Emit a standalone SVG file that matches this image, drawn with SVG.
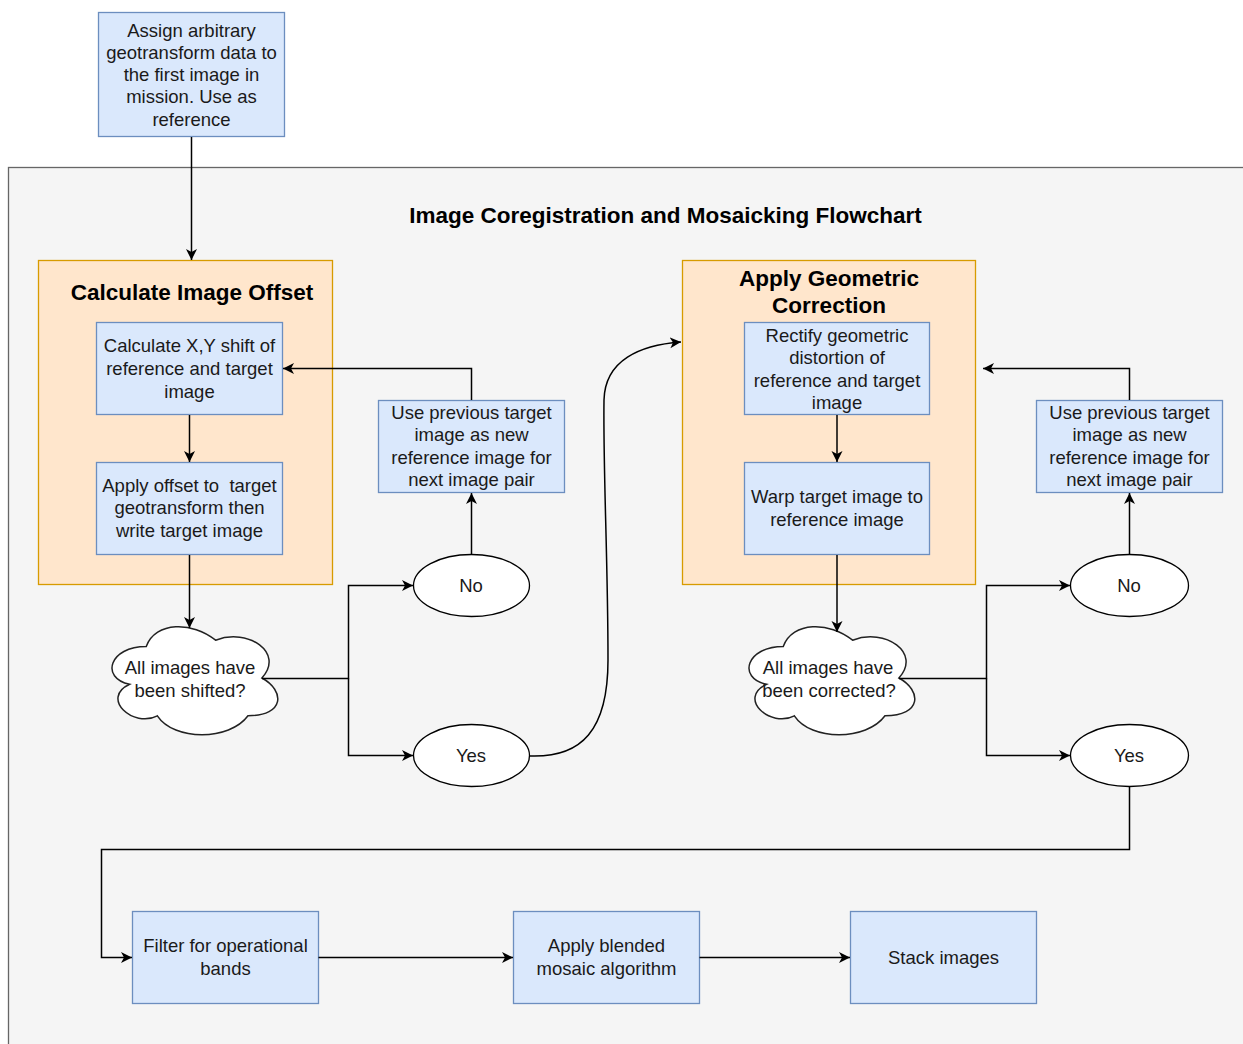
<svg xmlns="http://www.w3.org/2000/svg" width="1243" height="1044" viewBox="0 0 1243 1044">
<style>
text{font-family:"Liberation Sans",Arial,sans-serif;font-size:18.5px;fill:#1a1a1a;text-anchor:middle}
.b{font-weight:bold;font-size:22.5px;fill:#000}
.box{fill:#dae8fc;stroke:#6c8ebf;stroke-width:1.3}
.grp{fill:#ffe6cc;stroke:#d79b00;stroke-width:1.3}
.ell{fill:#fff;stroke:#000;stroke-width:1.3}
.cl{fill:#fff;stroke:#222;stroke-width:1.5}
.e{fill:none;stroke:#000;stroke-width:1.5}
</style>
<defs>
<marker id="a" markerWidth="12" markerHeight="12" refX="11" refY="6" orient="auto" markerUnits="userSpaceOnUse">
<path d="M0,0.5 L11,6 L0,11.5 L3,6 Z" fill="#000"/>
</marker>
<path id="cloud" d="M46.25 31.5 C9.25 31.5 0 63 29.6 69.3 C0 83.16 33.3 113.4 57.35 100.8 C74 126 129.5 126 148 100.8 C185 100.8 185 75.6 161.9 63 C185 37.8 148 12.6 115.6 25.2 C92.5 6.3 55.5 6.3 46.25 31.5 Z"/>
</defs>
<rect x="8.5" y="167.5" width="1260" height="900" fill="#f5f5f5" stroke="#666" stroke-width="1.3"/>
<text class="b" x="665.5" y="223">Image Coregistration and Mosaicking Flowchart</text>

<g id="start">
<rect class="box" x="98.5" y="12.5" width="186" height="124"/>
<text x="191.5" y="36.5">Assign arbitrary</text>
<text x="191.5" y="58.8">geotransform data to</text>
<text x="191.5" y="81.1">the first image in</text>
<text x="191.5" y="103.4">mission. Use as</text>
<text x="191.5" y="125.7">reference</text>
</g>

<g id="group-offset">
<rect class="grp" x="38.5" y="260.5" width="294" height="324"/>
<text class="b" x="192" y="300">Calculate Image Offset</text>
</g>
<g id="calc-shift">
<rect class="box" x="96.5" y="322.5" width="186" height="92"/>
<text x="189.5" y="351.5">Calculate X,Y shift of</text>
<text x="189.5" y="374.5">reference and target</text>
<text x="189.5" y="397.5">image</text>
</g>
<g id="apply-offset">
<rect class="box" x="96.5" y="462.5" width="186" height="92"/>
<text x="189.5" y="491.5" style="white-space:pre">Apply offset to  target</text>
<text x="189.5" y="514">geotransform then</text>
<text x="189.5" y="536.5">write target image</text>
</g>
<g id="cloud-shifted">
<use href="#cloud" class="cl" transform="translate(100,615)"/>
<text x="190" y="673.5">All images have</text>
<text x="190" y="696.5">been shifted?</text>
</g>
<g id="no1">
<ellipse class="ell" cx="471.5" cy="585.5" rx="58" ry="31"/>
<text x="471" y="591.5">No</text>
</g>
<g id="yes1">
<ellipse class="ell" cx="471.5" cy="755.5" rx="58" ry="31"/>
<text x="471" y="761.5">Yes</text>
</g>
<g id="prev1">
<rect class="box" x="378.5" y="400.5" width="186" height="92"/>
<text x="471.5" y="418.5">Use previous target</text>
<text x="471.5" y="440.5">image as new</text>
<text x="471.5" y="463.5">reference image for</text>
<text x="471.5" y="485.5">next image pair</text>
</g>

<g id="group-geo">
<rect class="grp" x="682.5" y="260.5" width="293" height="324"/>
<text class="b" x="829" y="286">Apply Geometric</text>
<text class="b" x="829" y="313">Correction</text>
</g>
<g id="rectify">
<rect class="box" x="744.5" y="322.5" width="185" height="92"/>
<text x="837" y="341.5">Rectify geometric</text>
<text x="837" y="363.5">distortion of</text>
<text x="837" y="386.5">reference and target</text>
<text x="837" y="408.5">image</text>
</g>
<g id="warp">
<rect class="box" x="744.5" y="462.5" width="185" height="92"/>
<text x="837" y="502.5">Warp target image to</text>
<text x="837" y="525.5">reference image</text>
</g>
<g id="cloud-corrected">
<use href="#cloud" class="cl" transform="translate(737,615)"/>
<text x="828" y="673.5">All images have</text>
<text x="829" y="696.5">been corrected?</text>
</g>
<g id="no2">
<ellipse class="ell" cx="1129.5" cy="585.5" rx="59" ry="31"/>
<text x="1129" y="591.5">No</text>
</g>
<g id="yes2">
<ellipse class="ell" cx="1129.5" cy="755.5" rx="59" ry="31"/>
<text x="1129" y="761.5">Yes</text>
</g>
<g id="prev2">
<rect class="box" x="1036.5" y="400.5" width="186" height="92"/>
<text x="1129.5" y="418.5">Use previous target</text>
<text x="1129.5" y="440.5">image as new</text>
<text x="1129.5" y="463.5">reference image for</text>
<text x="1129.5" y="485.5">next image pair</text>
</g>

<g id="filter">
<rect class="box" x="132.5" y="911.5" width="186" height="92"/>
<text x="225.5" y="951.5">Filter for operational</text>
<text x="225.5" y="974.5">bands</text>
</g>
<g id="blend">
<rect class="box" x="513.5" y="911.5" width="186" height="92"/>
<text x="606.5" y="951.5">Apply blended</text>
<text x="606.5" y="974.5">mosaic algorithm</text>
</g>
<g id="stack">
<rect class="box" x="850.5" y="911.5" width="186" height="92"/>
<text x="943.5" y="963.5">Stack images</text>
</g>

<g id="connectors">
<path class="e" d="M191.5 137 V260" marker-end="url(#a)"/>
<path class="e" d="M189.5 415 V462" marker-end="url(#a)"/>
<path class="e" d="M189.5 555 V628" marker-end="url(#a)"/>
<path class="e" d="M262 678.5 H348.5 V585.5 H413" marker-end="url(#a)"/>
<path class="e" d="M348.5 678.5 V755.5 H413" marker-end="url(#a)"/>
<path class="e" d="M471.5 554 V493" marker-end="url(#a)"/>
<path class="e" d="M471.5 400 V368.5 H283" marker-end="url(#a)"/>
<path class="e" d="M529.5 756 C582 758 608 730 608 660 C608 560 603 470 604 400 C605 360 640 345 681 342" marker-end="url(#a)"/>
<path class="e" d="M837 415 V462" marker-end="url(#a)"/>
<path class="e" d="M837 555 V632" marker-end="url(#a)"/>
<path class="e" d="M899 678.5 H986.5 V585.5 H1070" marker-end="url(#a)"/>
<path class="e" d="M986.5 678.5 V755.5 H1070" marker-end="url(#a)"/>
<path class="e" d="M1129.5 554 V493" marker-end="url(#a)"/>
<path class="e" d="M1129.5 400 V368.5 H983" marker-end="url(#a)"/>
<path class="e" d="M1129.5 786.5 V849.5 H101.5 V957.5 H132" marker-end="url(#a)"/>
<path class="e" d="M318.5 957.5 H513" marker-end="url(#a)"/>
<path class="e" d="M699.5 957.5 H850" marker-end="url(#a)"/>
</g>
</svg>
